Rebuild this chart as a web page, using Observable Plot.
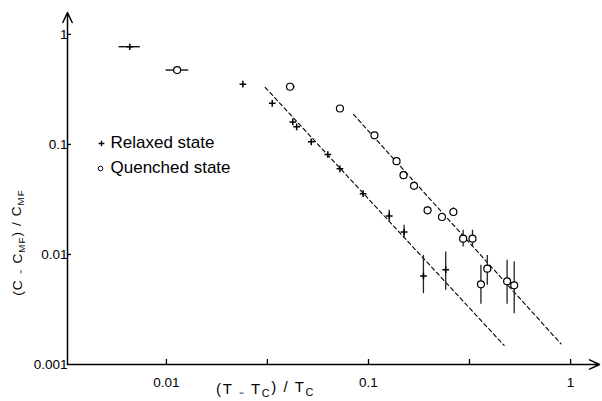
<!DOCTYPE html>
<html><head><meta charset="utf-8">
<script src="https://cdn.jsdelivr.net/npm/d3@7"></script>
<script src="https://cdn.jsdelivr.net/npm/@observablehq/plot@0.6"></script>
<style>
html,body{margin:0;padding:0;background:#fff}
#chart svg{display:block}
</style>
</head><body><div id="chart"></div>
<script>
// Relaxed state (+)
const relaxedX   = [0.00659, 0.0239, 0.0334, 0.0422, 0.0441, 0.0521, 0.0629, 0.0722, 0.094, 0.1267, 0.150, 0.187, 0.241];
const relaxedY   = [0.772, 0.353, 0.236, 0.160, 0.1445, 0.1055, 0.081, 0.060, 0.0357, 0.0224, 0.016, 0.00637, 0.00727];
const relaxedXLo = [0.00583, null, null, null, null, null, null, null, null, null, null, null, null];
const relaxedXHi = [0.00743, null, null, null, null, null, null, null, null, null, null, null, null];
const relaxedYLo = [null, null, null, null, null, null, null, null, null, 0.0197, 0.0142, 0.0044, 0.00472];
const relaxedYHi = [null, null, null, null, null, null, null, null, null, 0.0252, 0.0184, 0.0098, 0.0105];

// Quenched state (o)
const quenchedX   = [0.0113, 0.0409, 0.0722, 0.107, 0.1376, 0.149, 0.168, 0.196, 0.231, 0.263, 0.294, 0.327, 0.360, 0.387, 0.485, 0.526];
const quenchedY   = [0.474, 0.334, 0.212, 0.121, 0.0704, 0.0525, 0.042, 0.0252, 0.0219, 0.0243, 0.0139, 0.0139, 0.00535, 0.00743, 0.0057, 0.00524];
const quenchedXLo = [0.00996, 0.0392, null, null, null, null, null, null, null, null, null, null, null, null, null, null];
const quenchedXHi = [0.0129, 0.0434, null, null, null, null, null, null, null, null, null, null, null, null, null, null];
const quenchedYLo = [null, null, null, null, null, 0.0500, null, 0.0232, 0.0205, 0.0222, 0.0117, 0.0117, 0.00352, 0.00524, 0.00352, 0.00289];
const quenchedYHi = [null, null, null, null, null, 0.0565, null, 0.0272, 0.0234, 0.0266, 0.0166, 0.0166, 0.00796, 0.0098, 0.00885, 0.00853];

// Dashed power-law fits
const relaxedFitX  = [0.0308, 0.469];
const relaxedFitY  = [0.330, 0.00149];
const quenchedFitX = [0.0843, 0.896];
const quenchedFitY = [0.187, 0.00154];

// Axes
const xDomain = [0.00324, 1.39];
const yDomain = [0.001, 1.58];
const xTicks = [0.01, 0.1, 1];
const xMinorTicks = [0.0316, 0.316];
const yTicks = [1, 0.1, 0.01, 0.001];
const yLabelPad = [14, 14, 4, 2];
const legendLabels = ["Relaxed state", "Quenched state"];
const xTitle = "(T ₋ TC) / TC";
const yTitle = "(C ₋ CMF) / CMF";

const idx = (arr) => arr.map((v, i) => v == null ? null : i).filter(i => i != null);

const axisLines = [
  {x1: xDomain[0], y1: yDomain[0], x2: xDomain[1], y2: yDomain[0]},
  {x1: xDomain[0], y1: yDomain[0], x2: xDomain[0], y2: yDomain[1]}
];

const font = "Liberation Sans, Arial, sans-serif";

const chart = Plot.plot({
  width: 602, height: 401,
  marginLeft: 67, marginRight: 3, marginTop: 12, marginBottom: 37,
  x: {type: "log", domain: xDomain},
  y: {type: "log", domain: yDomain},
  style: {fontFamily: font, fontSize: "13px", color: "#000", background: "#fff"},
  marks: [
    Plot.axisX(xTicks.concat(xMinorTicks), {tickSize: -5, tickFormat: () => "", label: null, strokeWidth: 1.3}),
    Plot.axisY(yTicks.slice(0, 3), {tickSize: -4, tickFormat: () => "", label: null, strokeWidth: 1.3}),
    // tick labels
    Plot.text(xTicks, {x: d => d, y: yDomain[0], text: d => String(d), dy: 18, fontSize: 13.5}),
    Plot.text(yTicks.map((d, i) => i), {x: xDomain[0], y: i => yTicks[i], text: i => String(yTicks[i]), textAnchor: "end", fontSize: 13.5}),
    Plot.arrow(axisLines, {x1: "x1", y1: "y1", x2: "x2", y2: "y2", stroke: "black", strokeWidth: 1.5, headLength: 11, headAngle: 50}),
    // fits
    Plot.line(relaxedFitX, {x: relaxedFitX, y: relaxedFitY, stroke: "black", strokeWidth: 1.1, strokeDasharray: "4,3"}),
    Plot.line(quenchedFitX, {x: quenchedFitX, y: quenchedFitY, stroke: "black", strokeWidth: 1.1, strokeDasharray: "4,3"}),
    // error bars
    Plot.ruleY(idx(relaxedXLo), {y: i => relaxedY[i], x1: i => relaxedXLo[i], x2: i => relaxedXHi[i], stroke: "black", strokeWidth: 1.3}),
    Plot.ruleX(idx(relaxedYLo), {x: i => relaxedX[i], y1: i => relaxedYLo[i], y2: i => relaxedYHi[i], stroke: "#222", strokeWidth: 1.3}),
    Plot.ruleY(idx(quenchedXLo), {y: i => quenchedY[i], x1: i => quenchedXLo[i], x2: i => quenchedXHi[i], stroke: "black", strokeWidth: 1.3}),
    Plot.ruleX(idx(quenchedYLo), {x: i => quenchedX[i], y1: i => quenchedYLo[i], y2: i => quenchedYHi[i], stroke: "#222", strokeWidth: 1.3}),
    // points
    Plot.dot(relaxedX, {x: relaxedX, y: relaxedY, symbol: "plus", r: 2.3, stroke: "black", strokeWidth: 1.5}),
    Plot.dot(quenchedX, {x: quenchedX, y: quenchedY, r: 3.5, stroke: "black", fill: "white", strokeWidth: 1.2}),
    // legend
    Plot.dot([legendLabels[0]], {frameAnchor: "top-left", dx: 34, dy: 131, symbol: "plus", r: 2, stroke: "black", strokeWidth: 1.4}),
    Plot.dot([legendLabels[1]], {frameAnchor: "top-left", dx: 33, dy: 156, r: 2.3, stroke: "black", strokeWidth: 1}),
    Plot.text([legendLabels[0]], {text: d => d, frameAnchor: "top-left", textAnchor: "start", lineAnchor: "middle", dx: 43, dy: 130, fontSize: 17, fontFamily: font, letterSpacing: 1.4}),
    Plot.text([legendLabels[1]], {text: d => d, frameAnchor: "top-left", textAnchor: "start", lineAnchor: "middle", dx: 43, dy: 155, fontSize: 17, fontFamily: font, letterSpacing: 1.4}),
    // axis titles (subscripts added below)
    Plot.text([xTitle], {text: d => d, frameAnchor: "bottom-left", textAnchor: "middle", dx: 198, dy: 29, fontSize: 15, fontFamily: font}),
    Plot.text([yTitle], {text: d => d, frameAnchor: "left", textAnchor: "middle", dx: -50, dy: 54, rotate: -90, fontSize: 13.5, fontFamily: font})
  ]
});

const svg = d3.select(chart);

// individual padding of y tick labels (hand-lettered in the original)
svg.selectAll("text").filter(function() { return yTicks.map(String).includes(this.textContent) && this.getAttribute("text-anchor") === "end"; })
  .each(function() {
    const i = yTicks.map(String).indexOf(this.textContent);
    this.setAttribute("dx", -yLabelPad[i]);
  });

function subscriptTitle(sel, parts, spacing) {
  sel.text("").attr("letter-spacing", spacing);
  let prevSub = false;
  parts.forEach(([t, sub]) => {
    const ts = sel.append("tspan").text(t);
    if (sub) { ts.attr("dy", prevSub ? null : "0.35em").attr("font-size", "0.72em"); }
    else if (prevSub) ts.attr("dy", "-0.35em");
    prevSub = sub;
  });
}
const xt = svg.selectAll("text").filter(function() { return this.textContent === xTitle; });
subscriptTitle(xt, [["(T ₋ T", false], ["C", true], [") / T", false], ["C", true]], 1.6);
const yt = svg.selectAll("text").filter(function() { return this.textContent === yTitle; });
subscriptTitle(yt, [["(C ₋ C", false], ["MF", true], [") / C", false], ["MF", true]], 1.1);

document.getElementById("chart").appendChild(chart);
</script>
</body></html>
